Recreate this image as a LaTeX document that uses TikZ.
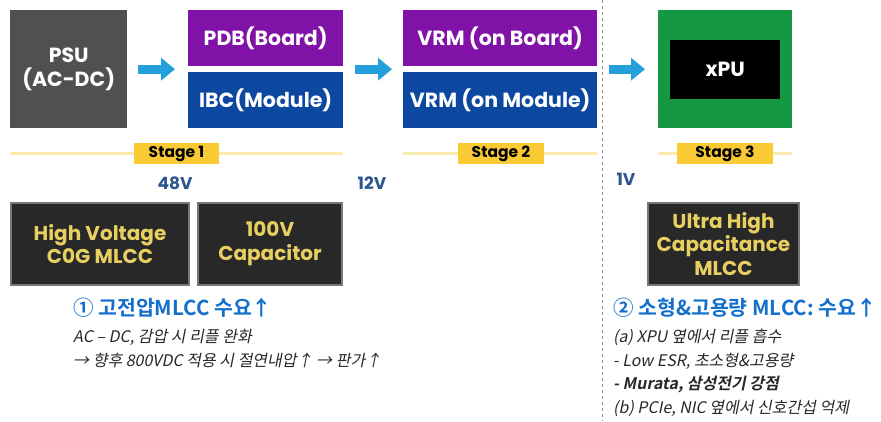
\documentclass[tikz,border=0pt]{standalone}
\usepackage{fontspec}
\usepackage{xcolor}
\usepackage{tikz}
\usetikzlibrary{arrows.meta}
\setmainfont{Poppins}
\newfontfamily\krfont{Noto Sans CJK KR}[BoldFont={Noto Sans CJK KR Bold},
    ItalicFeatures={FakeSlant=0.2}, BoldItalicFont={Noto Sans CJK KR Bold},
    BoldItalicFeatures={FakeSlant=0.2}, ItalicFont={Noto Sans CJK KR}]

\definecolor{psugray}{RGB}{80,80,80}
\definecolor{boardpurple}{RGB}{128,18,168}
\definecolor{moduleblue}{RGB}{12,72,160}
\definecolor{xpugreen}{RGB}{22,152,66}
\definecolor{arrowblue}{RGB}{36,160,218}
\definecolor{stagebar}{RGB}{250,236,176}
\definecolor{stageyellow}{RGB}{250,202,52}
\definecolor{voltblue}{RGB}{44,86,142}
\definecolor{capfill}{RGB}{40,40,40}
\definecolor{capedge}{RGB}{120,120,120}
\definecolor{capyellow}{RGB}{232,208,96}
\definecolor{headblue}{RGB}{18,112,204}
\definecolor{notegray}{RGB}{40,40,40}

\begin{document}
\begin{tikzpicture}[x=1pt,y=-1pt,
    blk/.style={rectangle, inner sep=0pt, anchor=north west, align=center, text=white,
        font=\bfseries\fontsize{20.5}{24}\selectfont},
    flow/.style={draw=arrowblue, line width=9pt, -{Triangle[width=22pt,length=14pt]}},
    stagebar/.style={draw=stagebar, line width=3pt},
    stagetag/.style={fill=stageyellow, inner sep=0pt, minimum height=21pt,
        font=\bfseries\fontsize{15.5}{18}\selectfont},
    volt/.style={text=voltblue, font=\bfseries\fontsize{17}{20}\selectfont},
    capbox/.style={fill=capfill, draw=capedge, line width=2pt, align=center, text=capyellow,
        minimum height=82pt, inner sep=0pt, font=\bfseries\fontsize{20}{23.8}\selectfont},
    heading/.style={anchor=west, inner sep=0pt, text=headblue, font=\krfont\bfseries\fontsize{20.5}{24}\selectfont},
    note/.style={anchor=north west, inner sep=0pt, align=left, text=notegray,
        font=\krfont\itshape\fontsize{16}{23.6}\selectfont}]
    \useasboundingbox[fill=white] (0,0) rectangle (881,421);

    % Power path
    \node[blk, fill=psugray, minimum width=117pt, minimum height=118pt] (psu) at (10,10) {PSU\\(AC-DC)};
    \node[blk, fill=boardpurple, minimum width=155pt, minimum height=56pt] (pdb) at (188,10) {PDB(Board)};
    \node[blk, fill=moduleblue, minimum width=155pt, minimum height=56pt] (ibc) at (188,72) {IBC(Module)};
    \node[blk, fill=boardpurple, minimum width=194pt, minimum height=56pt] (vrmb) at (403,10) {VRM (on Board)};
    \node[blk, fill=moduleblue, minimum width=194pt, minimum height=56pt] (vrmm) at (403,72) {VRM (on Module)};
    \node[blk, fill=xpugreen, minimum width=134pt, minimum height=118pt] (gpu) at (658,10) {};
    \node[blk, anchor=center, fill=black, minimum width=110pt, minimum height=59pt] (xpu) at (gpu.center) {xPU};

    % Arrows
    \draw[flow, shorten <=11pt, shorten >=13pt] (psu.east) -- (psu.east -| pdb.west);
    \draw[flow, shorten <=12pt, shorten >=11pt] (psu.east -| pdb.east) -- (psu.east -| vrmb.west);
    \draw[flow, shorten <=12pt, shorten >=13pt] (psu.east -| vrmb.east) -- (psu.east -| gpu.west);

    % Stages
    \node[stagetag, minimum width=85pt] (s1) at (176.5,153.5) {Stage 1};
    \node[stagetag, minimum width=86pt] (s2) at (501,153.5) {Stage 2};
    \node[stagetag, minimum width=96pt] (s3) at (725,153.5) {Stage 3};
    \draw[stagebar] (psu.west |- s1) -- (s1.west);
    \draw[stagebar] (s1.east) -- (pdb.east |- s1);
    \draw[stagebar] (vrmb.west |- s2) -- (s2.west);
    \draw[stagebar] (s2.east) -- (vrmb.east |- s2);
    \draw[stagebar] (gpu.west |- s3) -- (s3.west);
    \draw[stagebar] (s3.east) -- (gpu.east |- s3);

    % Voltages
    \node[volt] (v48) at (175,183.5) {48V};
    \node[volt] (v12) at (372,183.5) {12V};
    \node[volt] (v1) at (626,179.5) {1V};

    % Divider
    \draw[black!45, dashed, line width=0.8pt] (602,0) -- (602,421);

    % Capacitors
    \node[capbox, minimum width=178pt] (hvcap) at (100,244) {High Voltage\\C0G MLCC};
    \node[capbox, minimum width=144pt] (cap100) at (270,244) {100V\\Capacitor};
    \node[capbox, minimum width=151pt] (uhcap) at (723.5,244) {Ultra High\\Capacitance\\MLCC};

    % Notes
    \node[heading] (h1) at (73,308) {① 고전압MLCC 수요↑};
    \node[note] (n1) at (73,329) {AC – DC, 감압 시 리플 완화\\→ 향후 800VDC 적용 시 절연내압↑ → 판가↑};
    \node[heading] (h2) at (613,308) {② 소형\&고용량 MLCC: 수요↑};
    \node[note] (n2) at (613,329) {(a) XPU 옆에서 리플 흡수\\- Low ESR, 초소형\&고용량\\{\bfseries - Murata, 삼성전기 강점}\\(b) PCIe, NIC 옆에서 신호간섭 억제};
\end{tikzpicture}
\end{document}
